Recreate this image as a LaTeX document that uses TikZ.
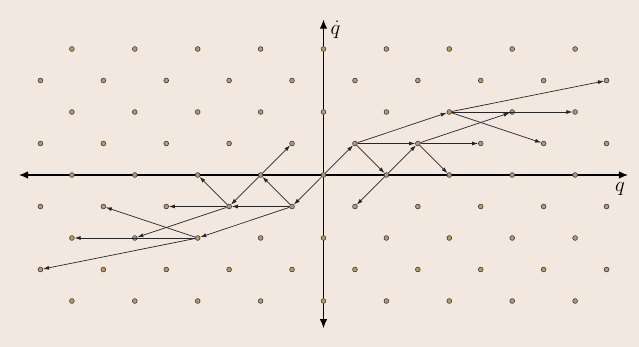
\documentclass[tikz,border=0pt]{standalone}
\usetikzlibrary{arrows.meta}
\definecolor{bg}{HTML}{F2E8DF}
\definecolor{dotfill}{HTML}{B8996C}
\begin{document}
\begin{tikzpicture}[x=31.45pt,y=31.5pt,
  dot/.style={circle,draw=black!80,fill=dotfill,line width=0.55pt,inner sep=0pt,minimum size=4.8pt},
  axis/.style={line width=1.1pt,{Latex[length=9pt,width=7.5pt]}-{Latex[length=9pt,width=7.5pt]}},
  flow/.style={line width=0.7pt,draw=black!85,-{Latex[length=6pt,width=4pt]}},
  lbl/.style={font=\fontsize{21}{25}\selectfont,inner sep=0pt}]
\fill[bg] (-323.5pt,-172pt) rectangle (315.5pt,175pt);
\useasboundingbox (-323.5pt,-172pt) rectangle (315.5pt,175pt);
\coordinate (xl) at (-9.68,0);
\coordinate (xr) at (9.68,0);
\coordinate (yb) at (0,-4.86);
\coordinate (yt) at (0,4.93);
\draw[axis] (xl) -- (xr);
\draw[axis] (yb) -- (yt);
\foreach \j in {-4,...,4} {
  \foreach \i in {-9,...,9} {
    \pgfmathtruncatemacro\s{mod(abs(\i+\j),2)}
    \ifnum\s=0 \node[dot] (p\i x\j) at (\i,\j) {}; \fi
  }
}
\node[lbl] (qlab) at (9.43,-0.44) {$q$};
\node[lbl] (qdlab) at (0.38,4.62) {$\dot q$};
% right side
\draw[flow] (p0x0) -- (p1x1);
\draw[flow] (p1x1) -- (p2x0);
\draw[flow] (p1x1) -- (p3x1);
\draw[flow] (p1x1) -- (p4x2);
\draw[flow] (p2x0) -- (p3x1);
\draw[flow] (p2x0) -- (p1x-1);
\draw[flow] (p3x1) -- (p4x0);
\draw[flow] (p3x1) -- (p5x1);
\draw[flow] (p3x1) -- (p6x2);
\draw[flow] (p4x2) -- (p8x2);
\draw[flow] (p4x2) -- (p7x1);
\draw[flow] (p4x2) -- (p9x3);
% left side
\draw[flow] (p0x0) -- (p-1x-1);
\draw[flow] (p-1x-1) -- (p-2x0);
\draw[flow] (p-1x-1) -- (p-3x-1);
\draw[flow] (p-1x-1) -- (p-4x-2);
\draw[flow] (p-2x0) -- (p-3x-1);
\draw[flow] (p-2x0) -- (p-1x1);
\draw[flow] (p-3x-1) -- (p-4x0);
\draw[flow] (p-3x-1) -- (p-5x-1);
\draw[flow] (p-3x-1) -- (p-6x-2);
\draw[flow] (p-4x-2) -- (p-8x-2);
\draw[flow] (p-4x-2) -- (p-7x-1);
\draw[flow] (p-4x-2) -- (p-9x-3);
\end{tikzpicture}
\end{document}
